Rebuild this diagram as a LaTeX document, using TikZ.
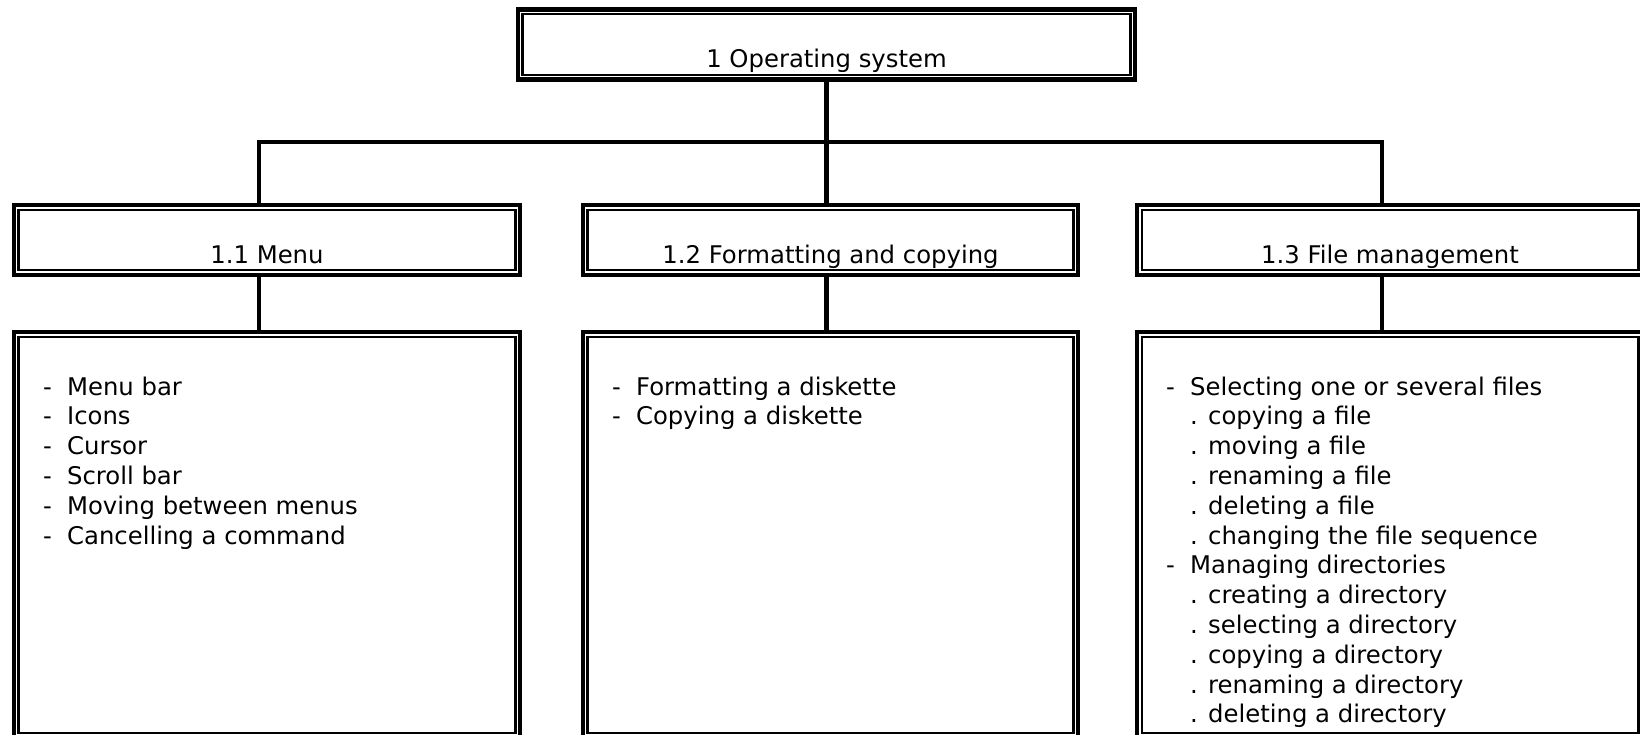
\documentclass[tikz,border=0pt]{standalone}
\usepackage{fontspec}
\setmainfont{DejaVu Sans}
\usepackage{tikz}
\usetikzlibrary{positioning,calc}
\tikzset{
    dbox/.style={draw, line width=2.9pt, inner sep=0pt,
        path picture={\draw[line width=1.7pt] ([shift={(3.4pt,-3.4pt)}]path picture bounding box.north west) rectangle ([shift={(-3.4pt,3.4pt)}]path picture bounding box.south east);}},
    head box/.style={dbox, text height=1.45cm, text depth=0.3cm, font=\fontsize{17.3}{21.2}\selectfont},
    list box/.style={dbox, minimum height=10.14cm},
    item text/.style={anchor=north west, align=left, inner sep=0pt, font=\fontsize{17.3}{21.2}\selectfont},
    link/.style={line width=3pt}
}
\newcommand{\dashitem}[1]{\makebox[0.6cm][l]{-}#1}
\newcommand{\dotitem}[1]{\hspace*{0.6cm}. #1}

\begin{document}
\begin{tikzpicture}
    \path[use as bounding box, fill=white] (0,0) rectangle (41,-18.35);

    % Top level
    \node[head box, minimum width=15.43cm] (os) at (20.6625,-1.1125) {1 Operating system};

    % Second level
    \node[head box, minimum width=12.655cm] (menu) at (6.675,-6) {1.1 Menu};
    \node[head box, minimum width=12.38cm] (fmt) at (20.7625,-6) {1.2 Formatting and copying};
    \node[head box, minimum width=12.655cm] (files) at (34.75,-6) {1.3 File management};

    % Content boxes
    \node[list box, minimum width=12.655cm] (menulist) at (6.675,-13.37) {};
    \node[list box, minimum width=12.38cm] (fmtlist) at (20.7625,-13.37) {};
    \node[list box, minimum width=12.655cm] (fileslist) at (34.75,-13.37) {};

    % Content text
    \node[item text] (menuitems) at ([xshift=0.775cm,yshift=-1.16cm]menulist.north west)
        {\dashitem{Menu bar}\\ \dashitem{Icons}\\ \dashitem{Cursor}\\ \dashitem{Scroll bar}\\
         \dashitem{Moving between menus}\\ \dashitem{Cancelling a command}};
    \node[item text] (fmtitems) at ([xshift=0.775cm,yshift=-1.16cm]fmtlist.north west)
        {\dashitem{Formatting a diskette}\\ \dashitem{Copying a diskette}};
    \node[item text] (filesitems) at ([xshift=0.775cm,yshift=-1.16cm]fileslist.north west)
        {\dashitem{Selecting one or several files}\\ \dotitem{copying a file}\\ \dotitem{moving a file}\\
         \dotitem{renaming a file}\\ \dotitem{deleting a file}\\ \dotitem{changing the file sequence}\\
         \dashitem{Managing directories}\\ \dotitem{creating a directory}\\ \dotitem{selecting a directory}\\
         \dotitem{copying a directory}\\ \dotitem{renaming a directory}\\ \dotitem{deleting a directory}};

    % Connections
    \draw[link] (os.south) -- (os.south |- fmt.north);
    \draw[link] (os.south) |- ($(os.south)!0.5!(fmt.north)$) -| ([xshift=-0.2cm]menu.north);
    \draw[link] (os.south) |- ($(os.south)!0.5!(fmt.north)$) -| ([xshift=-0.2cm]files.north);

    \draw[link] ([xshift=-0.2cm]menu.south) -- ([xshift=-0.2cm]menulist.north);
    \draw[link] (fmt.south -| os.south) -- (fmtlist.north -| os.south);
    \draw[link] ([xshift=-0.2cm]files.south) -- ([xshift=-0.2cm]fileslist.north);
\end{tikzpicture}
\end{document}
